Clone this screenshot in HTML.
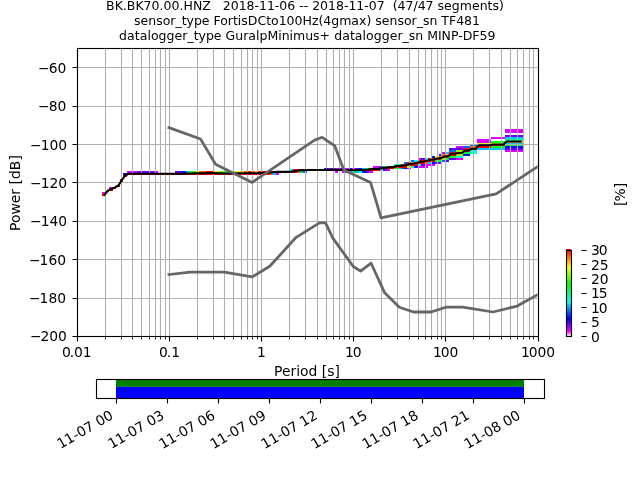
<!DOCTYPE html>
<html lang="en"><head><meta charset="utf-8"><title>PPSD BK.BK70.00.HNZ</title>
<style>html,body{margin:0;padding:0;background:#fff;width:640px;height:480px;overflow:hidden}svg{display:block}text{font-family:"DejaVu Sans", "Liberation Sans", sans-serif;fill:#000}</style>
</head><body>
<svg width="640" height="480" viewBox="0 0 640 480">
<rect x="0" y="0" width="640" height="480" fill="#ffffff"/>
<g id="hist" shape-rendering="crispEdges">
<rect x="505" y="129" width="18" height="2" fill="#db00ff"/>
<rect x="505" y="131" width="18" height="2" fill="#db00ff"/>
<rect x="505" y="135" width="18" height="2" fill="#6300ff"/>
<rect x="491" y="137" width="14" height="2" fill="#db00ff"/>
<rect x="505" y="137" width="18" height="2" fill="#00c5ff"/>
<rect x="477" y="139" width="14" height="2" fill="#db00ff"/>
<rect x="505" y="139" width="18" height="2" fill="#00ff84"/>
<rect x="477" y="141" width="14" height="2" fill="#db00ff"/>
<rect x="491" y="141" width="14" height="2" fill="#00ff2a"/>
<rect x="505" y="141" width="18" height="2" fill="#ffbe00"/>
<rect x="477" y="143" width="28" height="1" fill="#e6ff00"/>
<rect x="505" y="143" width="18" height="1" fill="#00c5ff"/>
<rect x="470" y="144" width="7" height="2" fill="#006bff"/>
<rect x="477" y="144" width="28" height="2" fill="#ff0900"/>
<rect x="505" y="144" width="18" height="2" fill="#00ff2a"/>
<rect x="456" y="146" width="7" height="2" fill="#db00ff"/>
<rect x="463" y="146" width="7" height="2" fill="#006bff"/>
<rect x="470" y="146" width="7" height="2" fill="#ff6300"/>
<rect x="477" y="146" width="14" height="2" fill="#ff0000"/>
<rect x="491" y="146" width="14" height="2" fill="#00ff2a"/>
<rect x="505" y="146" width="18" height="2" fill="#0010ff"/>
<rect x="449" y="148" width="14" height="2" fill="#6300ff"/>
<rect x="463" y="148" width="7" height="2" fill="#ff0000"/>
<rect x="470" y="148" width="7" height="2" fill="#ff0000"/>
<rect x="477" y="148" width="28" height="2" fill="#00c5ff"/>
<rect x="505" y="148" width="18" height="2" fill="#6300ff"/>
<rect x="449" y="150" width="7" height="2" fill="#006bff"/>
<rect x="456" y="150" width="7" height="2" fill="#8bff00"/>
<rect x="463" y="150" width="7" height="2" fill="#ff0000"/>
<rect x="470" y="150" width="7" height="2" fill="#00ffde"/>
<rect x="505" y="150" width="18" height="2" fill="#db00ff"/>
<rect x="442" y="152" width="4" height="2" fill="#db00ff"/>
<rect x="446" y="152" width="3" height="2" fill="#00c5ff"/>
<rect x="449" y="152" width="7" height="2" fill="#ff0000"/>
<rect x="456" y="152" width="7" height="2" fill="#ff0000"/>
<rect x="463" y="152" width="7" height="2" fill="#00ff2a"/>
<rect x="470" y="152" width="7" height="2" fill="#00ffde"/>
<rect x="439" y="154" width="3" height="2" fill="#0010ff"/>
<rect x="442" y="154" width="4" height="2" fill="#ff6300"/>
<rect x="446" y="154" width="3" height="2" fill="#ffbe00"/>
<rect x="449" y="154" width="7" height="2" fill="#ff0000"/>
<rect x="456" y="154" width="7" height="2" fill="#8bff00"/>
<rect x="463" y="154" width="7" height="2" fill="#0010ff"/>
<rect x="432" y="156" width="3" height="2" fill="#0010ff"/>
<rect x="435" y="156" width="4" height="2" fill="#e6ff00"/>
<rect x="439" y="156" width="3" height="2" fill="#ff6300"/>
<rect x="442" y="156" width="4" height="2" fill="#ff0000"/>
<rect x="446" y="156" width="3" height="2" fill="#ff0000"/>
<rect x="449" y="156" width="7" height="2" fill="#00ff2a"/>
<rect x="456" y="156" width="7" height="2" fill="#00ffde"/>
<rect x="418" y="158" width="3" height="2" fill="#db00ff"/>
<rect x="421" y="158" width="4" height="2" fill="#6300ff"/>
<rect x="425" y="158" width="3" height="2" fill="#00ffde"/>
<rect x="428" y="158" width="4" height="2" fill="#ff0000"/>
<rect x="432" y="158" width="3" height="2" fill="#ff0000"/>
<rect x="435" y="158" width="4" height="2" fill="#ff0000"/>
<rect x="439" y="158" width="3" height="2" fill="#ff0000"/>
<rect x="442" y="158" width="4" height="2" fill="#8bff00"/>
<rect x="446" y="158" width="3" height="2" fill="#00ff2a"/>
<rect x="449" y="158" width="7" height="2" fill="#6300ff"/>
<rect x="456" y="158" width="7" height="2" fill="#db00ff"/>
<rect x="411" y="160" width="3" height="2" fill="#006bff"/>
<rect x="414" y="160" width="4" height="2" fill="#00ffde"/>
<rect x="418" y="160" width="3" height="2" fill="#ff0000"/>
<rect x="421" y="160" width="4" height="2" fill="#ff0000"/>
<rect x="425" y="160" width="7" height="2" fill="#ff0000"/>
<rect x="432" y="160" width="3" height="2" fill="#ff0000"/>
<rect x="435" y="160" width="7" height="2" fill="#00ff2a"/>
<rect x="442" y="160" width="4" height="2" fill="#006bff"/>
<rect x="446" y="160" width="3" height="2" fill="#6300ff"/>
<rect x="404" y="162" width="3" height="2" fill="#006bff"/>
<rect x="407" y="162" width="4" height="2" fill="#ff0000"/>
<rect x="411" y="162" width="3" height="2" fill="#e6ff00"/>
<rect x="414" y="162" width="4" height="2" fill="#ff0000"/>
<rect x="418" y="162" width="3" height="2" fill="#ff0000"/>
<rect x="421" y="162" width="4" height="2" fill="#ff0000"/>
<rect x="425" y="162" width="3" height="2" fill="#ff6300"/>
<rect x="428" y="162" width="4" height="2" fill="#00c5ff"/>
<rect x="432" y="162" width="3" height="2" fill="#0010ff"/>
<rect x="435" y="162" width="7" height="2" fill="#6300ff"/>
<rect x="394" y="164" width="3" height="2" fill="#00ffde"/>
<rect x="397" y="164" width="4" height="2" fill="#00ff2a"/>
<rect x="401" y="164" width="3" height="2" fill="#ff0000"/>
<rect x="404" y="164" width="7" height="2" fill="#ff0000"/>
<rect x="411" y="164" width="3" height="2" fill="#ff0000"/>
<rect x="414" y="164" width="4" height="2" fill="#ff0000"/>
<rect x="418" y="164" width="3" height="2" fill="#00ffde"/>
<rect x="421" y="164" width="4" height="2" fill="#6300ff"/>
<rect x="425" y="164" width="10" height="2" fill="#db00ff"/>
<rect x="373" y="166" width="7" height="2" fill="#db00ff"/>
<rect x="380" y="166" width="3" height="2" fill="#0010ff"/>
<rect x="383" y="166" width="4" height="2" fill="#00ff2a"/>
<rect x="387" y="166" width="3" height="2" fill="#ff0000"/>
<rect x="390" y="166" width="4" height="2" fill="#ff0000"/>
<rect x="394" y="166" width="3" height="2" fill="#ff0000"/>
<rect x="397" y="166" width="4" height="2" fill="#ff0000"/>
<rect x="401" y="166" width="3" height="2" fill="#ff0000"/>
<rect x="404" y="166" width="3" height="2" fill="#ff0000"/>
<rect x="407" y="166" width="4" height="2" fill="#e6ff00"/>
<rect x="411" y="166" width="3" height="2" fill="#00ffde"/>
<rect x="414" y="166" width="4" height="2" fill="#0010ff"/>
<rect x="418" y="166" width="10" height="2" fill="#db00ff"/>
<rect x="324" y="168" width="4" height="1" fill="#0010ff"/>
<rect x="328" y="168" width="3" height="1" fill="#db00ff"/>
<rect x="331" y="168" width="4" height="1" fill="#0010ff"/>
<rect x="335" y="168" width="3" height="1" fill="#db00ff"/>
<rect x="338" y="168" width="4" height="1" fill="#6300ff"/>
<rect x="342" y="168" width="7" height="1" fill="#db00ff"/>
<rect x="349" y="168" width="3" height="1" fill="#0010ff"/>
<rect x="352" y="168" width="3" height="1" fill="#db00ff"/>
<rect x="355" y="168" width="4" height="1" fill="#6300ff"/>
<rect x="359" y="168" width="3" height="1" fill="#0010ff"/>
<rect x="362" y="168" width="4" height="1" fill="#00ffde"/>
<rect x="366" y="168" width="3" height="1" fill="#31ff00"/>
<rect x="369" y="168" width="4" height="1" fill="#ff0000"/>
<rect x="373" y="168" width="3" height="1" fill="#ff0000"/>
<rect x="376" y="168" width="4" height="1" fill="#ff0000"/>
<rect x="380" y="168" width="3" height="1" fill="#ff0000"/>
<rect x="383" y="168" width="4" height="1" fill="#ff0000"/>
<rect x="387" y="168" width="3" height="1" fill="#ff0000"/>
<rect x="390" y="168" width="4" height="1" fill="#ff0000"/>
<rect x="394" y="168" width="7" height="1" fill="#00ff2a"/>
<rect x="401" y="168" width="3" height="1" fill="#006bff"/>
<rect x="404" y="168" width="3" height="1" fill="#0010ff"/>
<rect x="407" y="168" width="4" height="1" fill="#db00ff"/>
<rect x="290" y="169" width="3" height="2" fill="#00ffde"/>
<rect x="293" y="169" width="4" height="2" fill="#ff0000"/>
<rect x="297" y="169" width="3" height="2" fill="#ff0000"/>
<rect x="300" y="169" width="3" height="2" fill="#ff0000"/>
<rect x="303" y="169" width="4" height="2" fill="#ff0000"/>
<rect x="307" y="169" width="17" height="2" fill="#ff0000"/>
<rect x="324" y="169" width="4" height="2" fill="#ff0000"/>
<rect x="328" y="169" width="3" height="2" fill="#ff0000"/>
<rect x="331" y="169" width="4" height="2" fill="#ff0000"/>
<rect x="335" y="169" width="14" height="2" fill="#ff0000"/>
<rect x="349" y="169" width="3" height="2" fill="#ff0000"/>
<rect x="352" y="169" width="3" height="2" fill="#ff0000"/>
<rect x="355" y="169" width="4" height="2" fill="#ff0000"/>
<rect x="359" y="169" width="7" height="2" fill="#ff0000"/>
<rect x="366" y="169" width="3" height="2" fill="#ff0000"/>
<rect x="369" y="169" width="4" height="2" fill="#ff0000"/>
<rect x="373" y="169" width="3" height="2" fill="#ff0000"/>
<rect x="376" y="169" width="4" height="2" fill="#ff0000"/>
<rect x="380" y="169" width="3" height="2" fill="#00ffde"/>
<rect x="383" y="169" width="4" height="2" fill="#6300ff"/>
<rect x="387" y="169" width="3" height="2" fill="#db00ff"/>
<rect x="127" y="171" width="10" height="2" fill="#db00ff"/>
<rect x="137" y="171" width="17" height="2" fill="#6300ff"/>
<rect x="154" y="171" width="4" height="2" fill="#db00ff"/>
<rect x="175" y="171" width="7" height="2" fill="#6300ff"/>
<rect x="182" y="171" width="4" height="2" fill="#0010ff"/>
<rect x="186" y="171" width="3" height="2" fill="#00c5ff"/>
<rect x="189" y="171" width="3" height="2" fill="#00ff2a"/>
<rect x="192" y="171" width="4" height="2" fill="#31ff00"/>
<rect x="196" y="171" width="3" height="2" fill="#e6ff00"/>
<rect x="199" y="171" width="7" height="2" fill="#ff6300"/>
<rect x="206" y="171" width="7" height="2" fill="#ff0000"/>
<rect x="213" y="171" width="4" height="2" fill="#ffbe00"/>
<rect x="217" y="171" width="7" height="2" fill="#8bff00"/>
<rect x="224" y="171" width="3" height="2" fill="#00ff2a"/>
<rect x="227" y="171" width="4" height="2" fill="#31ff00"/>
<rect x="231" y="171" width="3" height="2" fill="#8bff00"/>
<rect x="234" y="171" width="10" height="2" fill="#e6ff00"/>
<rect x="244" y="171" width="4" height="2" fill="#ff6300"/>
<rect x="248" y="171" width="3" height="2" fill="#ff0000"/>
<rect x="251" y="171" width="4" height="2" fill="#ff6300"/>
<rect x="255" y="171" width="3" height="2" fill="#ffbe00"/>
<rect x="258" y="171" width="4" height="2" fill="#ff0000"/>
<rect x="262" y="171" width="3" height="2" fill="#ff0000"/>
<rect x="265" y="171" width="4" height="2" fill="#ff0000"/>
<rect x="269" y="171" width="3" height="2" fill="#ff0000"/>
<rect x="272" y="171" width="4" height="2" fill="#ff0000"/>
<rect x="276" y="171" width="3" height="2" fill="#ff0000"/>
<rect x="279" y="171" width="11" height="2" fill="#ff0000"/>
<rect x="290" y="171" width="3" height="2" fill="#ff0000"/>
<rect x="293" y="171" width="4" height="2" fill="#ff0000"/>
<rect x="297" y="171" width="3" height="2" fill="#ff6300"/>
<rect x="300" y="171" width="3" height="2" fill="#00ff2a"/>
<rect x="303" y="171" width="4" height="2" fill="#006bff"/>
<rect x="335" y="171" width="3" height="2" fill="#db00ff"/>
<rect x="342" y="171" width="7" height="2" fill="#db00ff"/>
<rect x="349" y="171" width="3" height="2" fill="#00c5ff"/>
<rect x="352" y="171" width="3" height="2" fill="#00ff2a"/>
<rect x="355" y="171" width="4" height="2" fill="#00c5ff"/>
<rect x="359" y="171" width="3" height="2" fill="#00ffde"/>
<rect x="362" y="171" width="4" height="2" fill="#0010ff"/>
<rect x="366" y="171" width="3" height="2" fill="#6300ff"/>
<rect x="369" y="171" width="4" height="2" fill="#db00ff"/>
<rect x="123" y="173" width="4" height="2" fill="#0010ff"/>
<rect x="127" y="173" width="10" height="2" fill="#ff0000"/>
<rect x="137" y="173" width="17" height="2" fill="#ff0000"/>
<rect x="154" y="173" width="4" height="2" fill="#ff0000"/>
<rect x="158" y="173" width="17" height="2" fill="#ff0000"/>
<rect x="175" y="173" width="7" height="2" fill="#ff0000"/>
<rect x="182" y="173" width="4" height="2" fill="#ff0000"/>
<rect x="186" y="173" width="3" height="2" fill="#ff0000"/>
<rect x="189" y="173" width="3" height="2" fill="#ff0000"/>
<rect x="192" y="173" width="4" height="2" fill="#ff0000"/>
<rect x="196" y="173" width="3" height="2" fill="#ff0000"/>
<rect x="199" y="173" width="7" height="2" fill="#ff0000"/>
<rect x="206" y="173" width="7" height="2" fill="#ff0000"/>
<rect x="213" y="173" width="4" height="2" fill="#ff0000"/>
<rect x="217" y="173" width="7" height="2" fill="#ff0000"/>
<rect x="224" y="173" width="3" height="2" fill="#ff0000"/>
<rect x="227" y="173" width="4" height="2" fill="#ff0000"/>
<rect x="231" y="173" width="3" height="2" fill="#ff0000"/>
<rect x="234" y="173" width="10" height="2" fill="#ff0000"/>
<rect x="244" y="173" width="4" height="2" fill="#ff0000"/>
<rect x="248" y="173" width="3" height="2" fill="#ff0000"/>
<rect x="251" y="173" width="4" height="2" fill="#ff0000"/>
<rect x="255" y="173" width="3" height="2" fill="#ff0000"/>
<rect x="258" y="173" width="4" height="2" fill="#ff0000"/>
<rect x="262" y="173" width="3" height="2" fill="#ff0000"/>
<rect x="265" y="173" width="4" height="2" fill="#ff0000"/>
<rect x="269" y="173" width="3" height="2" fill="#ff6300"/>
<rect x="272" y="173" width="4" height="2" fill="#00c5ff"/>
<rect x="276" y="173" width="3" height="2" fill="#db00ff"/>
<rect x="123" y="175" width="4" height="2" fill="#ff0000"/>
<rect x="120" y="179" width="3" height="2" fill="#ff0000"/>
<rect x="120" y="181" width="3" height="2" fill="#ff0000"/>
<rect x="116" y="185" width="4" height="2" fill="#ff0000"/>
<rect x="109" y="187" width="4" height="2" fill="#db00ff"/>
<rect x="113" y="187" width="3" height="2" fill="#ff0000"/>
<rect x="109" y="189" width="4" height="2" fill="#ff0000"/>
<rect x="106" y="191" width="3" height="1" fill="#ff0000"/>
<rect x="102" y="192" width="4" height="2" fill="#db00ff"/>
<rect x="102" y="194" width="4" height="2" fill="#ff0000"/>
</g>
<path d="M77.5 48V336M105.5 48V336M121.5 48V336M132.5 48V336M141.5 48V336M149.5 48V336M155.5 48V336M160.5 48V336M165.5 48V336M169.5 48V336M197.5 48V336M213.5 48V336M224.5 48V336M233.5 48V336M241.5 48V336M247.5 48V336M252.5 48V336M257.5 48V336M261.5 48V336M289.5 48V336M305.5 48V336M317.5 48V336M326.5 48V336M333.5 48V336M339.5 48V336M344.5 48V336M349.5 48V336M353.5 48V336M381.5 48V336M397.5 48V336M409.5 48V336M418.5 48V336M425.5 48V336M431.5 48V336M437.5 48V336M441.5 48V336M445.5 48V336M473.5 48V336M489.5 48V336M501.5 48V336M510.5 48V336M517.5 48V336M523.5 48V336M529.5 48V336M533.5 48V336M538.5 48V336M76.8 336.5H537.6M76.8 298.5H537.6M76.8 259.5H537.6M76.8 221.5H537.6M76.8 182.5H537.6M76.8 144.5H537.6M76.8 106.5H537.6M76.8 67.5H537.6" stroke="#b0b0b0" stroke-width="1.11" fill="none"/>
<defs><clipPath id="axclip"><rect x="76.8" y="48" width="460.8" height="288"/></clipPath></defs>
<g clip-path="url(#axclip)" fill="none" stroke-linejoin="round">
<polyline points="104.54,194.9 108.01,190.5 111.48,189.05 114.95,187.4 118.41,185.5 121.88,180 125.35,175.3 128.82,173.72 132.29,173.72 135.75,173.72 139.22,173.68 142.69,173.68 146.16,173.68 149.63,173.68 153.09,173.68 156.56,173.72 160.03,173.76 163.5,173.76 166.96,173.76 170.43,173.76 173.9,173.76 177.37,173.68 180.84,173.68 184.3,173.64 187.77,173.56 191.24,173.43 194.71,173.39 198.18,173.31 201.64,173.23 205.11,173.23 208.58,172.94 212.05,172.94 215.51,173.27 218.98,173.35 222.45,173.35 225.92,173.43 229.39,173.39 232.85,173.35 236.32,173.31 239.79,173.31 243.26,173.31 246.73,173.23 250.19,173.15 253.66,173.23 257.13,173.27 260.6,173.02 264.06,172.78 267.53,172.53 271,172.37 274.47,172.04 277.94,171.88 281.4,171.84 284.87,171.84 288.34,171.84 291.81,171.59 295.28,171.1 298.74,170.45 302.21,170.25 305.68,170.08 309.15,169.92 312.61,169.92 316.08,169.92 319.55,169.92 323.02,169.92 326.49,169.8 329.95,169.88 333.42,169.8 336.89,169.92 340.36,169.84 343.83,169.92 347.29,169.92 350.76,170 354.23,170.21 357.7,170.04 361.16,170.04 364.63,169.8 368.1,169.63 371.57,169.31 375.04,168.94 378.5,168.86 381.97,168.12 385.44,167.75 388.91,167.39 392.38,167.18 395.84,166.16 399.31,166.08 402.78,165.63 406.25,165.06 409.72,164.08 413.18,163.63 416.65,163.06 420.12,161.87 423.59,161.55 427.05,160.81 430.52,159.99 433.99,159.46 437.46,158.44 440.93,158.11 444.39,156.6 447.86,156.07 451.33,153.82 454.8,153.82 458.27,152.97 461.73,152.97 465.2,150.35 468.67,150.35 472.14,148.68 475.6,148.68 479.07,145.33 482.54,145.33 486.01,145.33 489.48,145.33 492.94,144.43 496.41,144.43 499.88,144.43 503.35,144.43 506.82,141.49 510.28,141.49 513.75,141.49 517.22,141.49 520.69,141.49" stroke="#000000" stroke-width="2.08" stroke-linecap="square"/>
<polyline points="168.96,127.68 200.52,139.01 215.51,164.16 252.19,182.4 314.55,140.16 322.2,137.28 334.79,145.92 343.85,169.92 370.56,182.4 381.02,217.92 496.13,193.92 629.76,105.79" stroke="#666666" stroke-width="2.78" stroke-linecap="square"/>
<polyline points="168.96,274.56 190.2,272.06 224.45,272.06 252.19,276.86 269.73,266.3 296.16,237.31 319.5,222.91 325.54,222.91 332.83,238.08 353.28,266.5 360.58,271.1 371.08,263.23 384.66,292.8 399.33,307.2 413.48,312 431.16,312 445.84,307.2 462.72,307.2 492.98,312 517.15,306.05 629.76,243.65" stroke="#666666" stroke-width="2.78" stroke-linecap="square"/>
</g>
<path d="M77.5 336.5v5M169.5 336.5v5M261.5 336.5v5M353.5 336.5v5M445.5 336.5v5M538.5 336.5v5M77.5 336.5h-5M77.5 298.5h-5M77.5 259.5h-5M77.5 221.5h-5M77.5 182.5h-5M77.5 144.5h-5M77.5 106.5h-5M77.5 67.5h-5" stroke="#000" stroke-width="1.11" fill="none"/>
<path d="M105.5 336.5v3M121.5 336.5v3M132.5 336.5v3M141.5 336.5v3M149.5 336.5v3M155.5 336.5v3M160.5 336.5v3M165.5 336.5v3M197.5 336.5v3M213.5 336.5v3M224.5 336.5v3M233.5 336.5v3M241.5 336.5v3M247.5 336.5v3M252.5 336.5v3M257.5 336.5v3M289.5 336.5v3M305.5 336.5v3M317.5 336.5v3M326.5 336.5v3M333.5 336.5v3M339.5 336.5v3M344.5 336.5v3M349.5 336.5v3M381.5 336.5v3M397.5 336.5v3M409.5 336.5v3M418.5 336.5v3M425.5 336.5v3M431.5 336.5v3M437.5 336.5v3M441.5 336.5v3M473.5 336.5v3M489.5 336.5v3M501.5 336.5v3M510.5 336.5v3M517.5 336.5v3M523.5 336.5v3M529.5 336.5v3M533.5 336.5v3" stroke="#000" stroke-width="0.83" fill="none"/>
<rect x="77.5" y="48.5" width="461" height="288" fill="none" stroke="#000" stroke-width="1.11"/>
<g font-size="13.89" text-anchor="middle">
<text y="357" text-anchor="start" x="61.947 69.697 74.072 82.822">0.01</text>
<text y="357" text-anchor="start" x="159.071 166.821 171.196">0.1</text>
<text y="357" text-anchor="start" x="256.931">1</text>
<text y="357" text-anchor="start" x="344.877 352.752">10</text>
<text y="357" text-anchor="start" x="432.973 440.848 449.598">100</text>
<text y="357" text-anchor="start" x="520.974 528.849 537.599 546.349">1000</text>
<text y="376" text-anchor="start" x="274.108 281.983 290.483 296.233 300.108 308.608 317.483 321.858 327.358 334.483">Period [s]</text>
</g>
<g font-size="13.89" text-anchor="end">
<text y="341" text-anchor="start" x="29.916 40.541 49.291 58.041">−200</text>
<text y="303" text-anchor="start" x="28.921 39.546 48.421 57.296">−180</text>
<text y="265" text-anchor="start" x="28.921 39.546 48.421 57.296">−160</text>
<text y="226" text-anchor="start" x="30.071 40.696 49.571 58.321">−140</text>
<text y="188" text-anchor="start" x="30.071 40.696 49.571 58.321">−120</text>
<text y="150" text-anchor="start" x="30.071 40.696 49.571 58.321">−100</text>
<text y="111" text-anchor="start" x="38.004 48.629 57.504">−80</text>
<text y="73" text-anchor="start" x="38.004 48.629 57.504">−60</text>
</g>
<text font-size="13.89" transform="translate(20 193.18) rotate(-90)" text-anchor="start" x="-37.758 -29.883 -21.383 -10.008 -1.508 4.242 8.617 14.117 22.992 32.617">Power [dB]</text>
<g font-size="12.5" text-anchor="middle">
<text y="9.5" xml:space="preserve" style="white-space:pre" text-anchor="start" x="106.044 114.669 122.794 126.794 135.419 143.544 151.544 159.544 163.544 171.544 179.544 183.544 192.919 202.294 210.794 214.794 218.794 222.794 230.669 238.669 246.544 254.544 259.044 266.919 274.794 279.294 287.294 295.169 299.169 303.669 308.169 312.169 320.044 328.044 335.919 343.919 348.419 356.294 364.169 368.669 376.669 384.669 388.669 392.669 397.544 405.419 413.419 417.669 425.544 433.544 437.544 444.044 451.794 459.794 471.919 479.669 487.544 492.419 498.919">BK.BK70.00.HNZ   2018-11-06 -- 2018-11-07  (47/47 segments)</text>
<text y="24.5" xml:space="preserve" style="white-space:pre" text-anchor="start" x="134.036 140.536 148.286 156.161 162.661 170.286 175.411 181.661 186.536 193.911 201.786 209.536 213.536 220.161 227.786 232.911 237.786 241.286 247.786 257.411 266.161 271.036 278.661 286.536 294.536 302.536 311.911 318.411 323.286 331.161 339.161 351.286 359.036 366.411 371.286 375.286 381.786 389.536 397.411 403.911 411.536 416.661 422.911 429.411 437.286 441.286 449.036 456.161 464.036 472.036">sensor_type FortisDCto100Hz(4gmax) sensor_sn TF481</text>
<text y="39.5" xml:space="preserve" style="white-space:pre" text-anchor="start" x="119.02 127.02 134.77 139.645 147.395 150.895 158.52 166.52 174.52 182.27 187.395 193.645 198.52 205.895 213.77 221.52 225.52 235.27 243.145 248.27 256.02 259.52 267.395 278.145 281.645 289.52 293.02 305.145 313.02 319.52 330.145 334.145 342.145 349.895 354.77 362.52 366.02 373.645 381.645 389.645 397.395 402.52 408.77 415.27 423.145 427.145 437.895 441.52 450.895 458.145 462.645 472.27 479.395 487.395">datalogger_type GuralpMinimus+ datalogger_sn MINP-DF59</text>
</g>
<defs><linearGradient id="pq" gradientUnits="userSpaceOnUse" x1="0" y1="336" x2="0" y2="249.6">
<stop offset="0" stop-color="#ffffff"/>
<stop offset="0.05" stop-color="#ff00ff"/>
<stop offset="0.2" stop-color="#0000ff"/>
<stop offset="0.4" stop-color="#00ffff"/>
<stop offset="0.6" stop-color="#00ff00"/>
<stop offset="0.8" stop-color="#ffff00"/>
<stop offset="1" stop-color="#ff0000"/>
</linearGradient></defs>
<rect x="566" y="249" width="5" height="87.5" fill="url(#pq)" shape-rendering="crispEdges"/>
<rect x="566.5" y="250.5" width="5" height="86" fill="none" stroke="#000" stroke-width="1.11"/>
<path d="M581.5 336.5h5M581.5 322.5h5M581.5 307.5h5M581.5 293.5h5M581.5 278.5h5M581.5 264.5h5M581.5 250.5h5" stroke="#000" stroke-width="1.11" fill="none"/>
<g font-size="13.89" text-anchor="start">
<text y="342" text-anchor="start" x="590.96">0</text>
<text y="327" text-anchor="start" x="590.875">5</text>
<text y="313" text-anchor="start" x="590.945 598.82">10</text>
<text y="298" text-anchor="start" x="590.915 598.79">15</text>
<text y="284" text-anchor="start" x="590.955 599.705">20</text>
<text y="270" text-anchor="start" x="590.885 599.635">25</text>
<text y="255" text-anchor="start" x="590.995 598.745">30</text>
</g>
<text font-size="13.89" transform="translate(625.05 194.8) rotate(-90)" text-anchor="start" x="-11.133 -6.633 6.492">[%]</text>
<rect x="116" y="379.2" width="408" height="7.68" fill="#008000"/>
<rect x="116" y="386.88" width="408" height="11.52" fill="#0000ff"/>
<path d="M116.5 398.5v5M167.5 398.5v5M218.5 398.5v5M269.5 398.5v5M320.5 398.5v5M371.5 398.5v5M422.5 398.5v5M473.5 398.5v5M524.5 398.5v5" stroke="#000" stroke-width="1.11" fill="none"/>
<rect x="96.5" y="379.5" width="448" height="19" fill="none" stroke="#000" stroke-width="1.11"/>
<g font-size="13.89" text-anchor="end">
<text transform="translate(114.2 418) rotate(-30)" text-anchor="start" x="-62.141 -53.266 -44.391 -39.516 -30.766 -22.016 -17.641 -8.891">11-07 00</text>
<text transform="translate(165.25 418) rotate(-30)" text-anchor="start" x="-62.141 -53.266 -44.391 -39.516 -30.766 -22.016 -17.641 -8.891">11-07 03</text>
<text transform="translate(216.3 418) rotate(-30)" text-anchor="start" x="-62.266 -53.391 -44.516 -39.641 -30.891 -22.141 -17.766 -9.016">11-07 06</text>
<text transform="translate(267.35 418) rotate(-30)" text-anchor="start" x="-62.266 -53.391 -44.516 -39.641 -30.891 -22.141 -17.766 -9.016">11-07 09</text>
<text transform="translate(318.4 418) rotate(-30)" text-anchor="start" x="-62.266 -53.391 -44.516 -39.641 -30.891 -22.141 -17.766 -8.891">11-07 12</text>
<text transform="translate(368.45 418) rotate(-30)" text-anchor="start" x="-62.391 -53.516 -44.641 -39.766 -31.016 -22.266 -17.891 -9.016">11-07 15</text>
<text transform="translate(419.5 418) rotate(-30)" text-anchor="start" x="-62.391 -53.516 -44.641 -39.766 -31.016 -22.266 -17.891 -9.016">11-07 18</text>
<text transform="translate(470.55 418) rotate(-30)" text-anchor="start" x="-62.391 -53.516 -44.641 -39.766 -31.016 -22.266 -17.891 -9.141">11-07 21</text>
<text transform="translate(521.6 418) rotate(-30)" text-anchor="start" x="-62.391 -53.516 -44.641 -39.766 -31.016 -22.141 -17.766 -9.016">11-08 00</text>
</g>
</svg>
</body></html>
